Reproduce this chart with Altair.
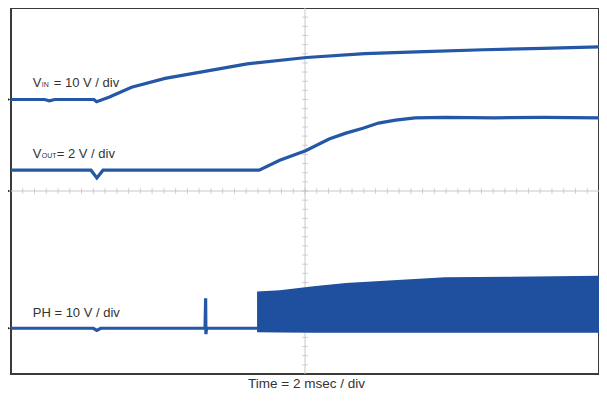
import altair as alt
import pandas as pd

# ---- trace data read from the scope shot (time in ms, voltage in volts) ----
# VIN : 10 V/div, ground marker at division 6
vin_t = [0, 1.14, 1.31, 1.48, 2.82, 2.91, 3.33, 4.10, 5.24, 6.35, 8.03, 10.05, 12.03, 14.05, 16.07, 18.08, 20]
vin_v = [0, 0, -0.27, 0, 0, -0.48, 0.48, 2.68, 4.62, 5.89, 7.80, 9.18, 10.03, 10.45, 10.87, 11.19, 11.51]

# VOUT : 2 V/div, ground marker at division 4
vout_t = [0, 2.72, 2.92, 3.13, 8.44, 9.14, 10.02, 10.82, 11.39, 11.97, 12.50, 13.08, 13.75, 14.76, 16.44, 18.12, 20]
vout_v = [0.91, 0.91, 0.57, 0.91, 0.91, 1.34, 1.76, 2.27, 2.53, 2.74, 2.97, 3.10, 3.20, 3.22, 3.20, 3.22, 3.20]

# PH : 10 V/div, ground marker at division 1 (before switching starts)
ph_t = [0, 2.80, 2.92, 3.05, 6.60, 6.62, 6.63, 6.65, 8.37]
ph_v = [0, 0, -0.45, 0, 0, 6.55, -1.30, 0, 0]

# PH switching envelope (top / bottom of the filled band)
band_t = [8.37, 9.14, 10.29, 11.39, 14.76, 17.01, 20]
band_hi = [8.04, 8.31, 9.16, 9.88, 11.16, 11.28, 11.50]
band_lo = [-0.90, -0.95, -1.00, -1.00, -1.00, -1.00, -1.00]

# channel settings: ground division and volts per division
ch_name = ["VIN", "VOUT", "PH"]
ch_ground = [6, 4, 1]
ch_scale = [10, 2, 10]

# labels (time in ms, position in divisions)
lab_text = ["V", "IN", "= 10 V / div", "V", "OUT", "= 2 V / div", "PH = 10 V / div", "Time = 2 msec / div"]
lab_t = [0.74, 0.74, 0.74, 0.74, 0.74, 0.74, 0.74, 10.05]
lab_pos = [6.28, 6.28, 6.28, 4.73, 4.73, 4.73, 1.25, -0.31]
lab_dx = [0, 9, 21, 0, 9, 24, 0, 0]
lab_size = [13, 7, 13, 13, 7, 13, 13, 13.5]
lab_align = ["left", "left", "left", "left", "left", "left", "left", "center"]

BLUE = "#2457a6"
FONT = "Liberation Sans"

def trace(ts, vs, ch):
    i = ch_name.index(ch)
    return pd.DataFrame({"t": ts, "pos": [ch_ground[i] + v / ch_scale[i] for v in vs]})

vin_df = trace(vin_t, vin_v, "VIN")
vout_df = trace(vout_t, vout_v, "VOUT")
ph_df = trace(ph_t, ph_v, "PH")
band_df = pd.DataFrame({
    "t": band_t,
    "pos": [ch_ground[2] + v / ch_scale[2] for v in band_hi],
    "pos2": [ch_ground[2] + v / ch_scale[2] for v in band_lo],
})
gnd_df = pd.DataFrame({"t": [-0.08] * 3, "pos": ch_ground})
lab_df = pd.DataFrame({"text": lab_text, "t": lab_t, "pos": lab_pos})

xs = alt.Scale(domain=[0, 20], nice=False, zero=False)
ys = alt.Scale(domain=[0, 8], nice=False, zero=False)

grid_df = pd.DataFrame({"t": [0], "pos": [0]})
grid = alt.Chart(grid_df).mark_point(opacity=0).encode(
    x=alt.X("t:Q", scale=xs, title=None, axis=alt.Axis(
        values=list(range(0, 21, 2)), grid=True, labels=False, ticks=False, domain=False,
        gridColor="#e4e4e4", gridWidth=1)),
    y=alt.Y("pos:Q", scale=ys, title=None, axis=alt.Axis(
        values=list(range(0, 9)), grid=True, labels=False, ticks=False, domain=False,
        gridColor="#e4e4e4", gridWidth=1)),
)

cx = alt.Chart(pd.DataFrame({"t": [10]})).mark_rule(color="#c8c8c8", strokeWidth=1).encode(
    x=alt.X("t:Q", scale=xs, axis=None))
cy = alt.Chart(pd.DataFrame({"pos": [4]})).mark_rule(color="#c8c8c8", strokeWidth=1).encode(
    y=alt.Y("pos:Q", scale=ys, axis=None))

hticks = alt.Chart(pd.DataFrame({"t": [i * 0.4 for i in range(1, 50)], "pos": [4] * 49})).mark_tick(
    orient="vertical", size=6, thickness=1, color="#bdbdbd").encode(
    x=alt.X("t:Q", scale=xs, axis=None), y=alt.Y("pos:Q", scale=ys, axis=None))
vticks = alt.Chart(pd.DataFrame({"t": [10] * 39, "pos": [i * 0.2 for i in range(1, 40)]})).mark_tick(
    orient="horizontal", size=6, thickness=1, color="#bdbdbd").encode(
    x=alt.X("t:Q", scale=xs, axis=None), y=alt.Y("pos:Q", scale=ys, axis=None))

def line(df):
    return alt.Chart(df).mark_line(color=BLUE, strokeWidth=3.2, interpolate="linear").encode(
        x=alt.X("t:Q", scale=xs, axis=None), y=alt.Y("pos:Q", scale=ys, axis=None))

band = alt.Chart(band_df).mark_area(color="#1f4f9f", opacity=1).encode(
    x=alt.X("t:Q", scale=xs, axis=None), y=alt.Y("pos:Q", scale=ys, axis=None), y2="pos2:Q")

gnd = alt.Chart(gnd_df).mark_point(shape="triangle-right", filled=True, size=14,
                                   color="#222222", opacity=1).encode(
    x=alt.X("t:Q", scale=xs, axis=None), y=alt.Y("pos:Q", scale=ys, axis=None))

labels = []
for i in range(len(lab_text)):
    labels.append(
        alt.Chart(lab_df.iloc[[i]]).mark_text(
            align=lab_align[i], baseline="alphabetic", font=FONT, fontSize=lab_size[i],
            dx=lab_dx[i], color="#333333").encode(
            x=alt.X("t:Q", scale=xs, axis=None), y=alt.Y("pos:Q", scale=ys, axis=None),
            text="text:N"))

chart = alt.layer(
    grid, cx, cy, hticks, vticks,
    line(vin_df), line(vout_df), line(ph_df), band, gnd, *labels
).properties(
    width=588, height=366,
    autosize=alt.AutoSizeParams(type="none"),
    padding={"left": 3, "top": 0, "right": 0, "bottom": 18},
    background="white",
).configure_view(stroke="#3a3a3a", strokeWidth=2)

chart.save("out.html", embed_options={"renderer": "svg", "actions": False})
